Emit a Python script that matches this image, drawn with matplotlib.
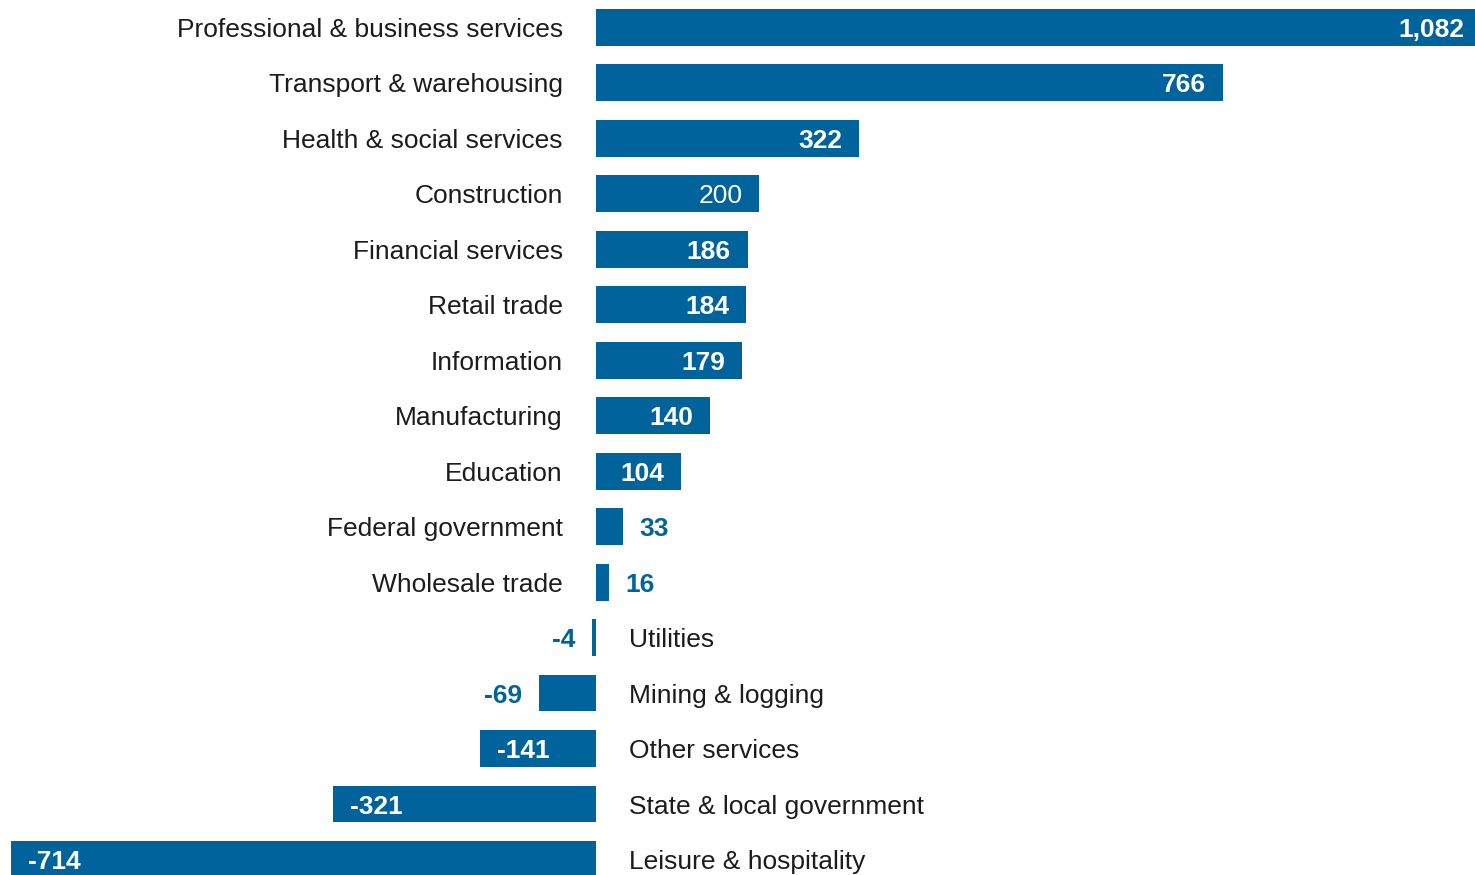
import matplotlib
matplotlib.use("Agg")
import matplotlib.pyplot as plt

sectors = [
    "Professional & business services", "Transport & warehousing",
    "Health & social services", "Construction", "Financial services",
    "Retail trade", "Information", "Manufacturing", "Education",
    "Federal government", "Wholesale trade", "Utilities",
    "Mining & logging", "Other services", "State & local government",
    "Leisure & hospitality",
]
change = [1082, 766, 322, 200, 186, 184, 179, 140, 104, 33, 16, -4, -69, -141, -321, -714]
value_labels = ["1,082", "766", "322", "200", "186", "184", "179", "140", "104",
                "33", "16", "-4", "-69", "-141", "-321", "-714"]

BLUE = "#00639b"
INK = "#1c1c1c"
FS = 19.0
PAD = 17      # px between bar end and value label
GAP = 33      # px between zero line and sector label
INSIDE_MIN = 100  # bars narrower than this get their value outside

plt.rcParams["font.family"] = ["Liberation Sans", "DejaVu Sans"]

fig = plt.figure(figsize=(14.75, 8.75), dpi=100)
ax = fig.add_axes([0, 0, 1, 1])
ax.axis("off")

ypos = list(range(len(sectors)))
ax.barh(ypos, change, height=0.658, color=BLUE, edgecolor="none")
ax.set_xlim(-727.8, 1074.3)
ax.set_ylim(15.275, -0.491)

for y, name, v, lab in zip(ypos, sectors, change, value_labels):
    # sector name on the opposite side of zero from the bar
    if v >= 0:
        ax.annotate(name, (0, y), xytext=(-GAP, 0), textcoords="offset pixels",
                    ha="right", va="center_baseline", fontsize=FS, color=INK)
    else:
        ax.annotate(name, (0, y), xytext=(GAP + 0.5, 0), textcoords="offset pixels",
                    ha="left", va="center_baseline", fontsize=FS, color=INK)

    weight = "normal" if name == "Construction" else "bold"
    inside = abs(v) >= INSIDE_MIN
    sign = 1 if v >= 0 else -1
    if inside:
        ax.annotate(lab, (v, y), xytext=(-sign * PAD, 0), textcoords="offset pixels",
                    ha="right" if v >= 0 else "left", va="center_baseline",
                    fontsize=FS, color="white", fontweight=weight,
                    annotation_clip=False)
    else:
        ax.annotate(lab, (v, y), xytext=(sign * PAD, 0), textcoords="offset pixels",
                    ha="left" if v >= 0 else "right", va="center_baseline",
                    fontsize=FS, color=BLUE, fontweight=weight)

fig.savefig("out.png", dpi=100)
